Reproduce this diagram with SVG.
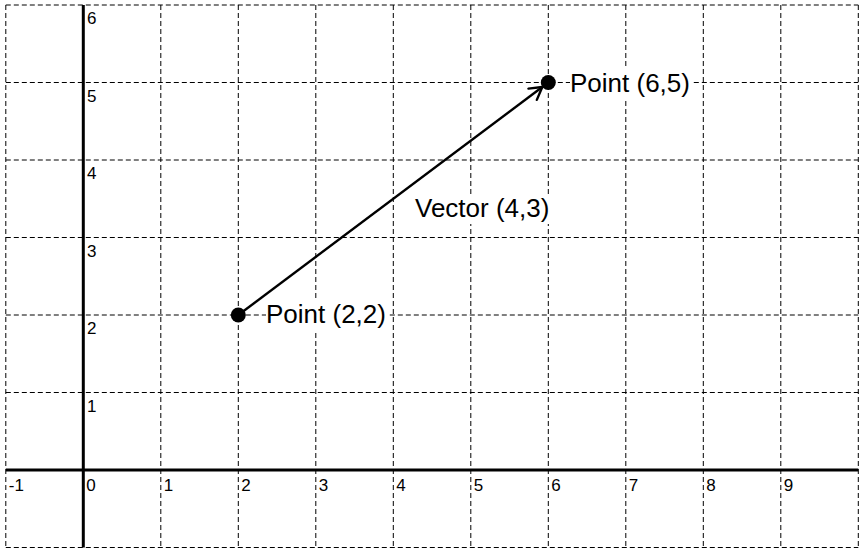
<svg xmlns="http://www.w3.org/2000/svg" width="860" height="549" viewBox="0 0 860 549">
  <style>
    .grid line { stroke: #000; stroke-width: 1; stroke-dasharray: 5 3; fill: none; }
    .axis { stroke: #000; stroke-width: 3; fill: none; }
    .tick { font-family: "Liberation Sans", Arial, sans-serif; font-size: 17px; fill: #000; }
    .lbl { font-family: "Liberation Sans", Arial, sans-serif; font-size: 26px; fill: #000; }
    .bg { fill: #fff; stroke: none; }
    .pt { fill: #000; }
    .vec { stroke: #000; stroke-width: 2.4; fill: none; }
  </style>
  <defs>
    <marker id="arrow" markerUnits="userSpaceOnUse" viewBox="-16 -10 20 20" refX="0" refY="0" markerWidth="20" markerHeight="20" orient="auto">
      <path d="M-12.1,-7 L0,0 L-12.1,7" fill="none" stroke="#000" stroke-width="2.4" stroke-linecap="round" stroke-linejoin="round"/>
    </marker>
  </defs>
  <rect x="0" y="0" width="860" height="549" fill="#fff"/>
  <g id="grid" class="grid">
    <line x1="5.8" y1="5" x2="5.8" y2="547.5"/>
    <line x1="160.8" y1="5" x2="160.8" y2="547.5"/>
    <line x1="238.3" y1="5" x2="238.3" y2="547.5"/>
    <line x1="315.8" y1="5" x2="315.8" y2="547.5"/>
    <line x1="393.3" y1="5" x2="393.3" y2="547.5"/>
    <line x1="470.8" y1="5" x2="470.8" y2="547.5"/>
    <line x1="548.3" y1="5" x2="548.3" y2="547.5"/>
    <line x1="625.8" y1="5" x2="625.8" y2="547.5"/>
    <line x1="703.3" y1="5" x2="703.3" y2="547.5"/>
    <line x1="780.8" y1="5" x2="780.8" y2="547.5"/>
    <line x1="858.3" y1="5" x2="858.3" y2="547.5"/>
    <line x1="5.8" y1="5" x2="858.3" y2="5"/>
    <line x1="5.8" y1="82.5" x2="858.3" y2="82.5"/>
    <line x1="5.8" y1="160" x2="858.3" y2="160"/>
    <line x1="5.8" y1="237.5" x2="858.3" y2="237.5"/>
    <line x1="5.8" y1="315" x2="858.3" y2="315"/>
    <line x1="5.8" y1="392.5" x2="858.3" y2="392.5"/>
    <line x1="5.8" y1="547.5" x2="858.3" y2="547.5"/>
  </g>
  <g id="axes">
    <line class="axis" x1="5.8" y1="470" x2="858.3" y2="470"/>
    <line class="axis" x1="83.3" y1="5" x2="83.3" y2="547.5"/>
    <g class="tick">
      <text x="8.8" y="491">-1</text>
      <text x="86.3" y="491">0</text>
      <text x="163.8" y="491">1</text>
      <text x="241.3" y="491">2</text>
      <text x="318.8" y="491">3</text>
      <text x="396.3" y="491">4</text>
      <text x="473.8" y="491">5</text>
      <text x="551.3" y="491">6</text>
      <text x="628.8" y="491">7</text>
      <text x="706.3" y="491">8</text>
      <text x="783.8" y="491">9</text>
      <text x="87" y="411.5">1</text>
      <text x="87" y="334">2</text>
      <text x="87" y="256.5">3</text>
      <text x="87" y="179">4</text>
      <text x="87" y="101.5">5</text>
      <text x="87" y="24">6</text>
    </g>
  </g>
  <g id="connectors">
    <g id="vector">
      <line class="vec" x1="238.3" y1="315" x2="542.3" y2="87" marker-end="url(#arrow)"/>
      <rect class="bg" x="413" y="194" width="141" height="30"/>
      <text class="lbl" x="415" y="216.7">Vector (4,3)</text>
    </g>
  </g>
  <g id="point-2-2">
    <rect class="bg" x="266" y="298" width="121" height="32"/>
    <text class="lbl" x="266" y="323.3">Point (2,2)</text>
    <circle class="pt" cx="238.3" cy="315" r="7.5"/>
  </g>
  <g id="point-6-5">
    <rect class="bg" x="570" y="67" width="123" height="32"/>
    <text class="lbl" x="570" y="91.7">Point (6,5)</text>
    <circle class="pt" cx="548.3" cy="82.5" r="7.5"/>
  </g>
</svg>
